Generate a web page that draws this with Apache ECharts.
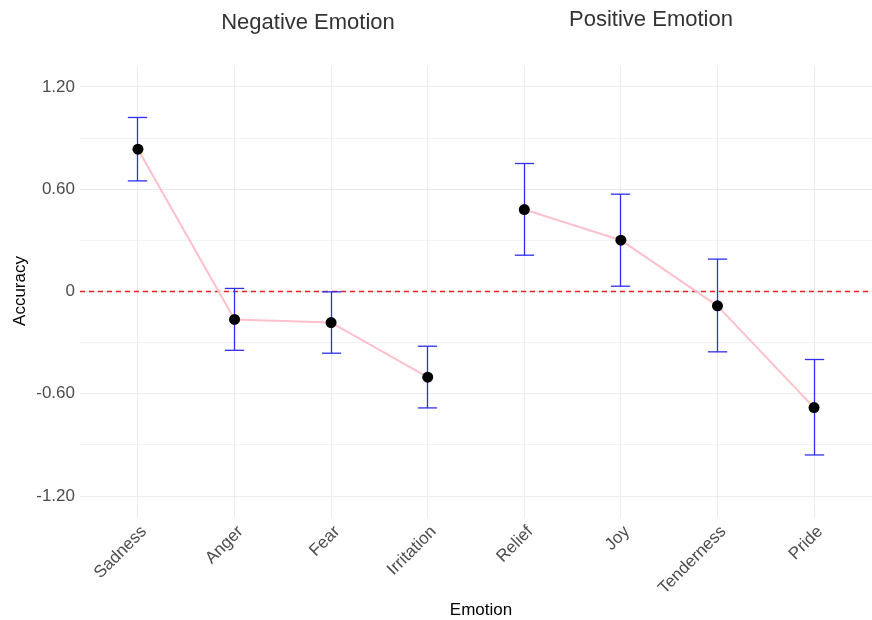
<!DOCTYPE html>
<html>
<head>
<meta charset="utf-8">
<script src="https://cdn.jsdelivr.net/npm/echarts@6/dist/echarts.min.js"></script>
<style>
html,body{margin:0;padding:0;background:#fff;}
#chart{width:872px;height:620px;}
</style>
</head>
<body>
<div id="chart"></div>
<script>
const categories = ['Sadness','Anger','Fear','Irritation','Relief','Joy','Tenderness','Pride'];
const negativeGroup = ['Sadness','Anger','Fear','Irritation'];
const positiveGroup = ['Relief','Joy','Tenderness','Pride'];
const accuracy = [0.835, -0.164, -0.182, -0.503, 0.481, 0.301, -0.084, -0.681];
const lowerCI  = [0.649, -0.345, -0.362, -0.683, 0.213, 0.031, -0.354, -0.959];
const upperCI  = [1.021, 0.018, -0.002, -0.321, 0.751, 0.571, 0.190, -0.399];
const yTicks = [-1.2, -0.6, 0, 0.6, 1.2];
const yMinorTicks = [-0.9, -0.3, 0.3, 0.9];
const referenceLine = 0;
const groupTitles = ['Negative Emotion', 'Positive Emotion'];

const pos = categories.map((c, i) => i + 1);
const negData = negativeGroup.map(c => { const i = categories.indexOf(c); return [pos[i], accuracy[i]]; });
const posData = positiveGroup.map(c => { const i = categories.indexOf(c); return [pos[i], accuracy[i]]; });
const errData = categories.map((c, i) => [pos[i], lowerCI[i], upperCI[i]]);
const ptData = categories.map((c, i) => [pos[i], accuracy[i]]);

// rule lines: [orientation (0 = horizontal, 1 = vertical), value, kind (0 minor, 1 major, 2 zero)]
const ruleData = []
  .concat(yMinorTicks.map(v => [0, v, 0]))
  .concat(yTicks.map(v => [0, v, 1]))
  .concat(pos.map(v => [1, v, 1]))
  .concat([[0, referenceLine, 2]]);

const FONT = '"Liberation Sans", Arial, sans-serif';
const chart = echarts.init(document.getElementById('chart'), null, {renderer: 'canvas'});

function snap(v) { return Math.round(v - 0.5) + 0.5; }

chart.setOption({
  animation: false,
  backgroundColor: '#ffffff',
  grid: {left: 80, top: 66, width: 801, height: 451, containLabel: false},
  xAxis: {
    type: 'value', min: 0.4, max: 8.6,
    axisLine: {show: false}, axisTick: {show: false}, splitLine: {show: false},
    axisLabel: {
      customValues: pos,
      formatter: v => categories[Math.round(v) - 1] || '',
      rotate: 45, margin: 6, verticalAlign: 'top', fontSize: 17, color: '#4D4D4D', fontFamily: FONT
    }
  },
  yAxis: {
    type: 'value', min: -1.323, max: 1.323,
    axisLine: {show: false}, axisTick: {show: false}, splitLine: {show: false},
    axisLabel: {
      customValues: yTicks,
      formatter: v => (Math.abs(v) < 1e-9 ? '0' : v.toFixed(2)),
      margin: 5, fontSize: 17, color: '#4D4D4D', fontFamily: FONT
    }
  },
  graphic: [
    {type: 'text', x: 308, y: 23, style: {text: groupTitles[0], fontSize: 22, fill: '#333', fontFamily: FONT, textAlign: 'center', textVerticalAlign: 'middle'}},
    {type: 'text', x: 651, y: 20, style: {text: groupTitles[1], fontSize: 22, fill: '#333', fontFamily: FONT, textAlign: 'center', textVerticalAlign: 'middle'}},
    {type: 'text', x: 481, y: 610, style: {text: 'Emotion', fontSize: 17, fill: '#000', fontFamily: FONT, textAlign: 'center', textVerticalAlign: 'middle'}},
    {type: 'text', x: 20, y: 291, rotation: Math.PI / 2, style: {text: 'Accuracy', fontSize: 17, fill: '#000', fontFamily: FONT, textAlign: 'center', textVerticalAlign: 'middle'}}
  ],
  series: [
    {
      type: 'custom', z: 1, data: ruleData, silent: true, clip: false,
      renderItem: function (params, api) {
        const cs = params.coordSys;
        const orient = api.value(0), v = api.value(1), kind = api.value(2);
        let shape;
        if (orient === 0) {
          const y = snap(api.coord([1, v])[1]);
          shape = {x1: cs.x, y1: y, x2: cs.x + cs.width, y2: y};
        } else {
          const x = snap(api.coord([v, 0])[0]);
          shape = {x1: x, y1: cs.y, x2: x, y2: cs.y + cs.height};
        }
        let style;
        if (kind === 0) style = {stroke: '#F3F3F3', lineWidth: 1};
        else if (kind === 1) style = {stroke: '#EBEBEB', lineWidth: 1};
        else style = {stroke: '#E8201E', lineWidth: 1.5, lineDash: [5, 4]};
        return {type: 'line', shape: shape, style: style, z2: kind};
      }
    },
    {type: 'line', data: negData, showSymbol: false, silent: true, lineStyle: {color: '#FFC0CB', width: 2}, z: 3},
    {type: 'line', data: posData, showSymbol: false, silent: true, lineStyle: {color: '#FFC0CB', width: 2}, z: 3},
    {
      type: 'custom', z: 4, data: errData, silent: true,
      renderItem: function (params, api) {
        const x = api.value(0);
        const lo = api.coord([x, api.value(1)]);
        const hi = api.coord([x, api.value(2)]);
        const half = api.size([0.1, 0])[0];
        const cx = snap(lo[0]);
        const mk = () => ({stroke: '#2F2FF5', lineWidth: 1.3});
        return {type: 'group', children: [
          {type: 'line', shape: {x1: cx, y1: lo[1], x2: cx, y2: hi[1]}, style: mk()},
          {type: 'line', shape: {x1: cx - half, y1: lo[1], x2: cx + half, y2: lo[1]}, style: mk()},
          {type: 'line', shape: {x1: cx - half, y1: hi[1], x2: cx + half, y2: hi[1]}, style: mk()}
        ]};
      }
    },
    {type: 'scatter', data: ptData, symbol: 'circle', symbolSize: 11, silent: true, itemStyle: {color: '#000', opacity: 1}, z: 5}
  ]
});
</script>
</body>
</html>
